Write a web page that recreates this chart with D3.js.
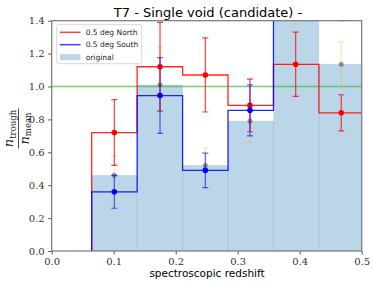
<!DOCTYPE html>
<html>
<head>
<meta charset="utf-8">
<script src="https://cdn.jsdelivr.net/npm/d3@7"></script>
<style>
  body { margin: 0; background: #fff; }
  svg { display: block; }
  .tick text { font-family: "DejaVu Serif", serif; font-size: 10px; fill: #333; }
</style>
</head>
<body>
<div id="chart"></div>
<script>
// bins (spectroscopic redshift)
var binEdges = [0.0645, 0.1378, 0.2111, 0.2844, 0.3577, 0.431, 0.5043];
var binCenters = [0.101, 0.1747, 0.2478, 0.3198, 0.3935, 0.467];

// original histogram + its points
var original = [0.46, 1.01, 0.52, 0.79, 1.65, 1.135];
var originalErr = [0.12, 0.23, 0.105, 0.13, 0.27, 0.135];

// 0.5 deg North
var north = [0.72, 1.12, 1.07, 0.885, 1.135, 0.84];
var northErr = [0.2, 0.27, 0.225, 0.16, 0.195, 0.11];

// 0.5 deg South
var south = [0.36, 0.945, 0.49, 0.855, 1.55, 1.5];
var southErr = [0.1, 0.23, 0.105, 0.155, 0.1, 0.1];

var xTicks = [0, 0.1, 0.2, 0.3, 0.4, 0.5];
var yTicks = [0, 0.2, 0.4, 0.6, 0.8, 1.0, 1.2, 1.4];

var W = 374, H = 287;
var margin = {left: 51.7, right: 12.3, top: 20.7, bottom: 36};

var svg = d3.select("#chart").append("svg")
  .attr("width", W).attr("height", H);

var x = d3.scaleLinear().domain([0, 0.5]).range([margin.left, W - margin.right]);
var y = d3.scaleLinear().domain([0, 1.4]).range([H - margin.bottom, margin.top]);

svg.append("clipPath").attr("id", "plotclip")
  .append("rect")
  .attr("x", x(0)).attr("y", y(1.4))
  .attr("width", x(0.5) - x(0)).attr("height", y(0) - y(1.4));

var plot = svg.append("g").attr("clip-path", "url(#plotclip)");

// original bars
plot.selectAll("rect.orig").data(original).enter()
  .append("rect")
  .attr("class", "orig")
  .attr("x", (d, i) => x(binEdges[i]))
  .attr("width", (d, i) => x(binEdges[i + 1]) - x(binEdges[i]))
  .attr("y", d => y(d))
  .attr("height", d => y(0) - y(d))
  .attr("fill", "#1f77b4").attr("fill-opacity", 0.3)
  .attr("stroke", "#1f77b4").attr("stroke-opacity", 0.08).attr("stroke-width", 1);

// green reference line
plot.append("line")
  .attr("x1", x(0)).attr("x2", x(0.5))
  .attr("y1", y(1)).attr("y2", y(1))
  .attr("stroke", "#44c044").attr("stroke-opacity", 0.75).attr("stroke-width", 1.5);

function errorbars(vals, errs, color, opacity, ptColor, ptOpacity, r) {
  var g = plot.append("g");
  vals.forEach(function(v, i) {
    var cx = x(binCenters[i]);
    var lo = y(v - errs[i]), hi = y(v + errs[i]);
    g.append("line").attr("x1", cx).attr("x2", cx).attr("y1", lo).attr("y2", hi)
      .attr("stroke", color).attr("stroke-opacity", opacity).attr("stroke-width", 1.2);
    [lo, hi].forEach(function(yy) {
      g.append("line").attr("x1", cx - 3).attr("x2", cx + 3).attr("y1", yy).attr("y2", yy)
        .attr("stroke", color).attr("stroke-opacity", opacity).attr("stroke-width", 1.2);
    });
    g.append("circle").attr("cx", cx).attr("cy", y(v)).attr("r", r)
      .attr("fill", ptColor).attr("fill-opacity", ptOpacity);
  });
}

// original points (faint)
errorbars(original, originalErr, "orange", 0.3, "#555", 0.6, 2.5);

function stepPath(vals) {
  var pts = [[x(binEdges[0]), y(0)]];
  vals.forEach(function(v, i) {
    pts.push([x(binEdges[i]), y(v)]);
    pts.push([x(binEdges[i + 1]), y(v)]);
  });
  pts.push([x(binEdges[binEdges.length - 1]), y(0)]);
  return d3.line()(pts);
}

plot.append("path").attr("d", stepPath(north))
  .attr("fill", "none").attr("stroke", "red").attr("stroke-opacity", 0.85).attr("stroke-width", 1.3);
errorbars(north, northErr, "red", 0.75, "red", 1, 2.8);

plot.append("path").attr("d", stepPath(south))
  .attr("fill", "none").attr("stroke", "blue").attr("stroke-opacity", 0.85).attr("stroke-width", 1.3);
errorbars(south, southErr, "blue", 0.6, "blue", 1, 2.8);

// axes
svg.append("g")
  .attr("transform", "translate(0," + y(0) + ")")
  .call(d3.axisBottom(x).tickValues(xTicks).tickFormat(d3.format(".1f")).tickSize(3.5).tickPadding(3));
svg.append("g")
  .attr("transform", "translate(" + x(0) + ",0)")
  .call(d3.axisLeft(y).tickValues(yTicks).tickFormat(d3.format(".1f")).tickSize(3.5).tickPadding(3.5));
svg.selectAll(".domain").remove();
svg.selectAll(".tick line").attr("stroke", "#555");

// frame
svg.append("rect")
  .attr("x", x(0)).attr("y", y(1.4))
  .attr("width", x(0.5) - x(0)).attr("height", y(0) - y(1.4))
  .attr("fill", "none").attr("stroke", "#777").attr("stroke-width", 1.2);

// title
svg.append("text")
  .attr("x", 208).attr("y", 17)
  .attr("text-anchor", "middle")
  .style("font-family", "DejaVu Sans").style("font-size", "13px")
  .text("T7 - Single void (candidate) -");

// x label
svg.append("text")
  .attr("x", 207).attr("y", 277)
  .attr("text-anchor", "middle")
  .style("font-family", "DejaVu Sans").style("font-size", "10.5px")
  .text("spectroscopic redshift");

// y label: n_trough / n_mean
var yl = svg.append("g").attr("transform", "translate(-2,128.5) rotate(-90)")
  .style("font-family", "DejaVu Serif").attr("fill", "#222");
var num = yl.append("text").attr("x", 0).attr("y", 15).attr("text-anchor", "middle");
num.append("tspan").style("font-style", "italic").style("font-size", "13px").text("n");
num.append("tspan").attr("dy", 2.5).style("font-size", "8.5px").text("trough");
yl.append("line").attr("x1", -20).attr("x2", 20).attr("y1", 20.5).attr("y2", 20.5)
  .attr("stroke", "#222").attr("stroke-width", 0.8);
var den = yl.append("text").attr("x", 0).attr("y", 30.5).attr("text-anchor", "middle");
den.append("tspan").style("font-style", "italic").style("font-size", "13px").text("n");
den.append("tspan").attr("dy", 2.5).style("font-size", "8.5px").text("mean");

// legend
var lg = svg.append("g");
lg.append("rect")
  .attr("x", 56.7).attr("y", 24.7).attr("width", 85).attr("height", 39).attr("rx", 2)
  .attr("fill", "#fff").attr("fill-opacity", 0.8).attr("stroke", "#ccc").attr("stroke-width", 0.8);
var legendItems = [
  {label: "0.5 deg North", color: "red", type: "line"},
  {label: "0.5 deg South", color: "blue", type: "line"},
  {label: "original", color: "#1f77b4", type: "patch"}
];
legendItems.forEach(function(it, i) {
  var ly = 32.3 + i * 12.4;
  if (it.type === "line") {
    lg.append("line").attr("x1", 60).attr("x2", 80.5).attr("y1", ly).attr("y2", ly)
      .attr("stroke", it.color).attr("stroke-opacity", 0.75).attr("stroke-width", 1.5);
  } else {
    lg.append("rect").attr("x", 60).attr("y", ly - 3).attr("width", 20.5).attr("height", 6)
      .attr("fill", it.color).attr("fill-opacity", 0.3);
  }
  lg.append("text").attr("x", 85.7).attr("y", ly + 2.7)
    .style("font-family", "DejaVu Sans").style("font-size", "7.5px").attr("fill", "#222")
    .text(it.label);
});
</script>
</body>
</html>
